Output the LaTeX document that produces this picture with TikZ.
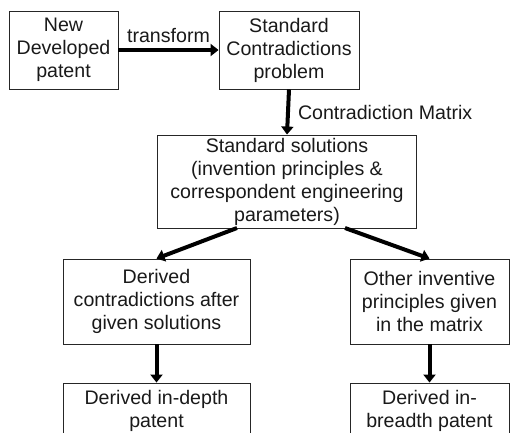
\documentclass[tikz,border=0pt]{standalone}
\usepackage{fontspec}
\setmainfont{Liberation Sans}
\usetikzlibrary{arrows.meta}
\begin{document}
\begin{tikzpicture}[x=1pt,y=-1pt,
  box/.style={draw=black!85,line width=0.9pt,align=center,inner sep=0pt,
    font=\fontsize{19.6}{23}\selectfont,text=black!90},
  conn/.style={line width=4pt,-{Triangle[length=8pt,width=12pt]}},
  lbl/.style={font=\fontsize{19.6}{23}\selectfont,text=black!90,inner sep=0pt}]
\useasboundingbox (0,0) rectangle (510,432);
\clip (0,0) rectangle (510,432);
\node[box,minimum width=109pt,minimum height=78pt] (b1) at (63.5,50) {New\\Developed\\patent};
\node[box,minimum width=140pt,minimum height=78pt] (b2) at (289,50) {Standard\\Contradictions\\problem};
\node[box,minimum width=259pt,minimum height=93pt] (b3) at (287,181.5) {Standard solutions\\(invention principles \&\\correspondent engineering\\parameters)};
\node[box,minimum width=187pt,minimum height=85pt] (b4) at (156.5,301.5) {Derived\\contradictions after\\given solutions};
\node[box,minimum width=159pt,minimum height=85pt] (b5) at (429.5,301.5) {Other inventive\\principles given\\in the matrix};
\node[box,minimum width=187pt,minimum height=55pt] (b6) at (156.5,410.5) {Derived in-depth\\patent};
\node[box,minimum width=159pt,minimum height=55pt] (b7) at (429.5,410.5) {Derived in-\\breadth patent};
\coordinate (s3l) at (237,228);
\coordinate (s3r) at (345,228);
\draw[conn] (b1.east) -- node[lbl,above=5pt] {transform} (b2.west);
\draw[conn] (b2.south) -- node[lbl,right=8pt] {Contradiction Matrix} (b3.north);
\draw[conn] (s3l) -- (b4.north);
\draw[conn] (s3r) -- (b5.north);
\draw[conn] (b4.south) -- (b6.north);
\draw[conn] (b5.south) -- (b7.north);
\end{tikzpicture}
\end{document}
